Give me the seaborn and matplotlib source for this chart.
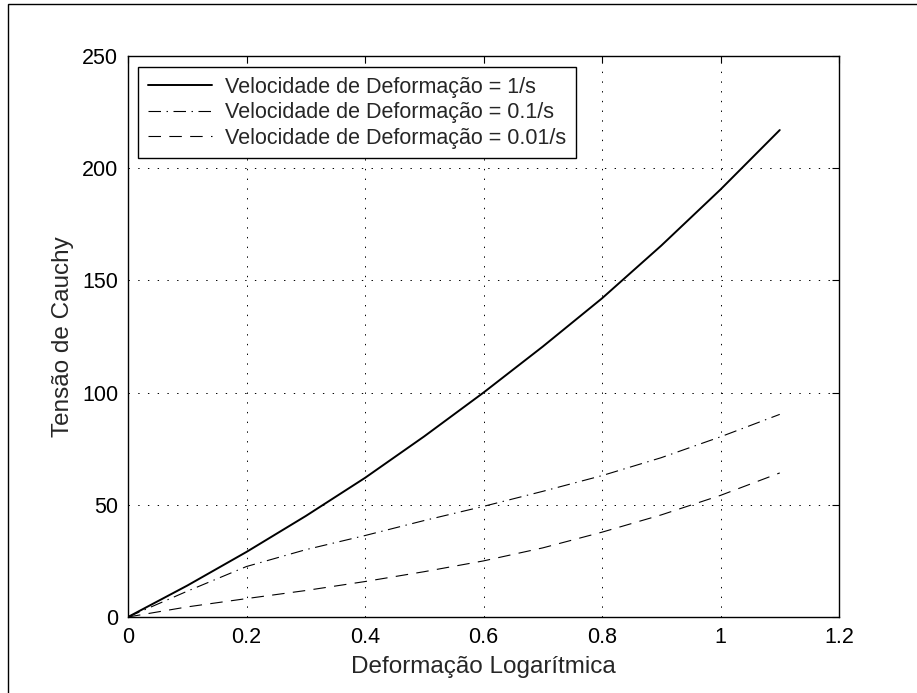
import matplotlib
matplotlib.use("Agg")
import matplotlib.pyplot as plt
from matplotlib.patches import Rectangle
import seaborn as sns
import pandas as pd

strain = [0.0, 0.1, 0.2, 0.3, 0.4, 0.5, 0.6, 0.7, 0.8, 0.9, 1.0, 1.1]
stress_1 = [0.0, 14.0, 29.0, 45.0, 62.0, 80.5, 100.0, 120.5, 142.0, 165.5, 190.5, 217.0]
stress_01 = [0.0, 11.5, 22.5, 30.0, 36.3, 43.0, 49.3, 56.0, 63.0, 71.0, 80.3, 90.3]
stress_001 = [0.0, 4.5, 8.2, 11.8, 15.8, 20.2, 25.0, 30.8, 37.8, 45.5, 54.2, 64.2]
labels = ["Velocidade de Deformação = 1/s",
          "Velocidade de Deformação = 0.1/s",
          "Velocidade de Deformação = 0.01/s"]
xticks = [0, 0.2, 0.4, 0.6, 0.8, 1, 1.2]
xticklabels = ["0", "0.2", "0.4", "0.6", "0.8", "1", "1.2"]
yticks = [0, 50, 100, 150, 200, 250]

sns.set_theme(style="white")
plt.rcParams['font.family'] = ['Liberation Sans', 'DejaVu Sans']
plt.rcParams['lines.scale_dashes'] = False

fig = plt.figure(figsize=(9.17, 6.93), dpi=100)
W, H = 917, 693
ax = fig.add_axes([128 / W, 1 - 617 / H, (839 - 128) / W, (617 - 56) / H])

styles = [dict(linestyle='-', linewidth=1.4),
          dict(linestyle=(0, (9, 4, 1, 4)), linewidth=0.8),
          dict(linestyle=(0, (9, 6)), linewidth=0.8)]
for ys, lab, st in zip([stress_1, stress_01, stress_001], labels, styles):
    df = pd.DataFrame({"x": strain, "y": ys})
    sns.lineplot(data=df, x="x", y="y", ax=ax, color="black", label=lab,
                 estimator=None, sort=False, **st)

ax.set_xlim(0, 1.2)
ax.set_ylim(0, 250)
ax.set_xticks(xticks)
ax.set_xticklabels(xticklabels)
ax.set_yticks(yticks)
ax.tick_params(direction='in', length=5, width=0.8, colors='black',
               labelsize=15.5, top=True, right=True, pad=7)
ax.grid(True, color='black', linestyle=(0, (1, 6)), linewidth=0.7)
for s in ax.spines.values():
    s.set_color('black')
    s.set_linewidth(1.0)
ax.set_xlabel("Deformação Logarítmica", fontsize=17.5, labelpad=6)
ax.set_ylabel("Tensão de Cauchy", fontsize=17.5, labelpad=6)

leg = ax.legend(loc='upper left', fontsize=15.5, frameon=True, fancybox=False,
                edgecolor='black', framealpha=1, borderpad=0.45,
                handlelength=3.0, handletextpad=0.6, labelspacing=0.2,
                bbox_to_anchor=(0.0141, 0.98), borderaxespad=0)
leg.get_frame().set_linewidth(1.0)

fig.add_artist(Rectangle((7.5 / W, -0.5), 2, 1.5 - 3.5 / H,
                         transform=fig.transFigure, fill=False,
                         edgecolor='black', linewidth=1.0))

fig.savefig("out.png", dpi=100)
